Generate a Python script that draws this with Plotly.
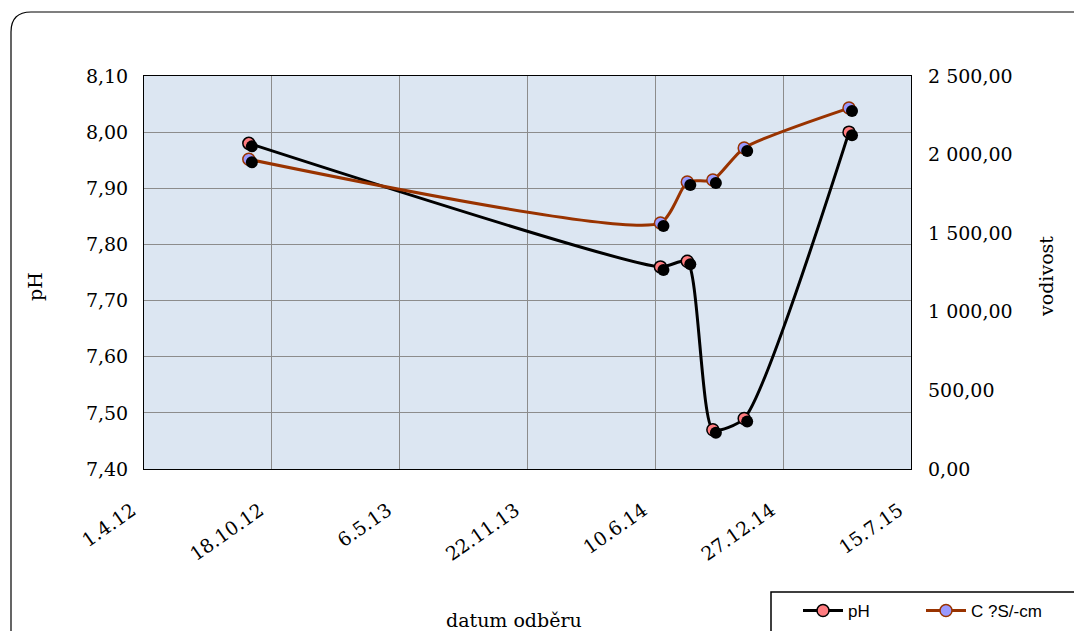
"""pH and conductivity over sampling dates, dual-axis line chart."""
import plotly.graph_objects as go

# sampling dates and measured values
dates = ["2012-09-12", "2014-06-18", "2014-07-30", "2014-09-08", "2014-10-27", "2015-04-09"]
ph_values = [7.98, 7.76, 7.77, 7.47, 7.49, 8.00]
conductivity = [1970, 1565, 1826, 1838, 2042, 2296]

# axis ticks
x_tick_dates = ["2012-04-01", "2012-10-18", "2013-05-06", "2013-11-22",
                "2014-06-10", "2014-12-27", "2015-07-15"]
x_tick_labels = ["1.4.12", "18.10.12", "6.5.13", "22.11.13", "10.6.14", "27.12.14", "15.7.15"]

# page body adds an 8px offset, so the figure is a bit smaller than the window
OFF = 8
W, H = 1082 - OFF, 631 - OFF
# plot area in screen pixels
L, R, T, B = 144, 911, 76, 469

SERIF = "DejaVu Serif"
SANS = "Liberation Sans"
PH_COLOR = "#000000"
COND_COLOR = "#993300"
FS = 19


def px(x, y):
    """Screen pixel position -> paper coordinates."""
    return (x - L) / (R - L), (B - y) / (B - T)


fig = go.Figure()

# drop shadows under markers, drawn on slightly shifted overlay axes
fig.add_trace(go.Scatter(
    x=dates, y=ph_values, xaxis="x2", yaxis="y3", mode="markers",
    marker=dict(size=12, color="#000000"), showlegend=False, hoverinfo="skip",
))
fig.add_trace(go.Scatter(
    x=dates, y=conductivity, xaxis="x2", yaxis="y4", mode="markers",
    marker=dict(size=12, color="#000000"), showlegend=False, hoverinfo="skip",
))

fig.add_trace(go.Scatter(
    x=dates, y=ph_values, name="pH", mode="lines+markers",
    line=dict(color=PH_COLOR, width=3, shape="spline", smoothing=0.6),
    marker=dict(size=12, color="#ff7c80", line=dict(color="#000000", width=1.5)),
))
fig.add_trace(go.Scatter(
    x=dates, y=conductivity, name="C ?S/-cm", yaxis="y2", mode="lines+markers",
    line=dict(color=COND_COLOR, width=3, shape="spline", smoothing=0.6),
    marker=dict(size=12, color="#9999ff", line=dict(color=COND_COLOR, width=1.5)),
))

x_range = ["2012-04-01", "2015-07-15"]
x2_range = ["2012-03-27 07:00", "2015-07-10 07:00"]  # ~3 px shift
ph_shift = 3 * 0.7 / (B - T)
cond_shift = 3 * 2500 / (B - T)

grid = "#8c8c8c"
tick_font = dict(family=SERIF, size=FS, color="#000000")
lx, ly = px(798, 611)
fig.update_layout(
    width=W, height=H,
    margin=dict(l=L - OFF, r=W - (R - OFF), t=T - OFF, b=H - (B - OFF), autoexpand=False),
    paper_bgcolor="white",
    plot_bgcolor="#dce6f2",
    separators=", ",
    showlegend=True,
    legend=dict(
        orientation="h", x=lx, y=ly, xanchor="left", yanchor="middle",
        font=dict(family=SANS, size=17, color="#000000"),
        borderwidth=0, bgcolor="rgba(0,0,0,0)",
        itemwidth=40, entrywidth=68, tracegroupgap=0,
    ),
    xaxis=dict(
        type="date", range=x_range,
        tickvals=x_tick_dates, ticktext=x_tick_labels, tickangle=-35,
        ticklabelstandoff=22, ticklabelshift=-12,
        showgrid=True, gridcolor=grid, gridwidth=1,
        showline=True, linecolor="#000000", linewidth=1, mirror=True,
        ticks="", tickfont=tick_font, zeroline=False,
    ),
    xaxis2=dict(type="date", range=x2_range, overlaying="x", visible=False),
    yaxis=dict(
        range=[7.4, 8.1], dtick=0.1, tickformat=".2f",
        showgrid=True, gridcolor=grid, gridwidth=1,
        showline=True, linecolor="#000000", linewidth=1, mirror=True,
        ticks="", tickfont=tick_font, zeroline=False, ticklabelstandoff=11,
    ),
    yaxis2=dict(
        range=[0, 2500], dtick=500, tickformat=",.2f", overlaying="y", side="right",
        showgrid=False, ticks="", zeroline=False, tickfont=tick_font,
        ticklabelstandoff=16,
    ),
    yaxis3=dict(range=[7.4 + ph_shift, 8.1 + ph_shift], overlaying="y", visible=False),
    yaxis4=dict(range=[cond_shift, 2500 + cond_shift], overlaying="y", visible=False),
)

# axis titles
titles = [("datum odběru", 514, 620, 0), ("pH", 35, 287, -90), ("vodivost", 1046, 277, -90)]
for text, tx, ty, angle in titles:
    ax, ay = px(tx, ty)
    fig.add_annotation(text=text, x=ax, y=ay, xref="paper", yref="paper", textangle=angle,
                       xanchor="center", yanchor="middle", showarrow=False, font=tick_font)

# legend frame
bx0, by0 = px(771, 592)
bx1, by1 = px(1077, 645)
fig.add_shape(type="rect", x0=bx0, y0=by0, x1=bx1, y1=by1, xref="paper", yref="paper",
              line=dict(color="#000000", width=1.5), fillcolor="white", layer="below")

# rounded chart border
x0, y0 = px(11, 12)
x1, y1 = px(1098, 650)
rx, ry = 20 / (R - L), 20 / (B - T)
path = (f"M {x0},{y1} L {x0},{y0 - ry} Q {x0},{y0} {x0 + rx},{y0} "
        f"L {x1 - rx},{y0} Q {x1},{y0} {x1},{y0 - ry} L {x1},{y1}")
fig.add_shape(type="path", path=path, xref="paper", yref="paper",
              line=dict(color="#000000", width=1.2))

fig.write_html("out.html")
